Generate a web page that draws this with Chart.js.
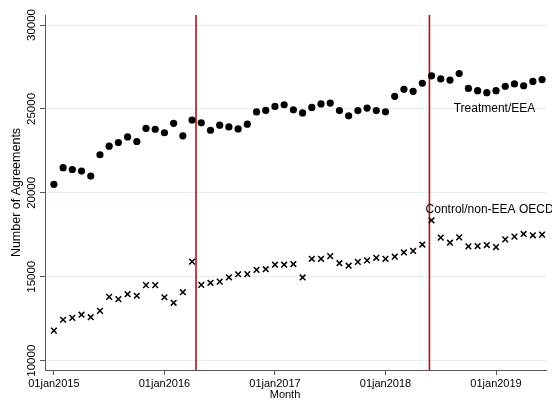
<!DOCTYPE html>
<html>
<head>
<meta charset="utf-8">
<script src="https://cdn.jsdelivr.net/npm/chart.js@4.4.1/dist/chart.umd.min.js"></script>
<style>
  html, body { margin: 0; padding: 0; background: #fff; }
  canvas { display: block; }
</style>
</head>
<body>
<canvas id="myChart" width="552" height="403"></canvas>
<script>
// monthly counts, jan2015 - jun2019
var months = [
  '2015m1','2015m2','2015m3','2015m4','2015m5','2015m6','2015m7','2015m8','2015m9','2015m10','2015m11','2015m12',
  '2016m1','2016m2','2016m3','2016m4','2016m5','2016m6','2016m7','2016m8','2016m9','2016m10','2016m11','2016m12',
  '2017m1','2017m2','2017m3','2017m4','2017m5','2017m6','2017m7','2017m8','2017m9','2017m10','2017m11','2017m12',
  '2018m1','2018m2','2018m3','2018m4','2018m5','2018m6','2018m7','2018m8','2018m9','2018m10','2018m11','2018m12',
  '2019m1','2019m2','2019m3','2019m4','2019m5','2019m6'
];
var treatment = [
  20510, 21500, 21390, 21300, 21000, 22270, 22780, 23000, 23330, 23060, 23840, 23790,
  23580, 24140, 23400, 24340, 24170, 23730, 24030, 23930, 23810, 24090, 24820, 24910,
  25150, 25250, 24950, 24760, 25090, 25300, 25350, 24900, 24590, 24900, 25050, 24900,
  24830, 25750, 26170, 26050, 26530, 26970, 26790, 26720, 27110, 26220, 26090, 25970,
  26090, 26350, 26490, 26380, 26640, 26750
];
var control = [
  11790, 12440, 12550, 12740, 12590, 12970, 13800, 13670, 13960, 13870, 14500, 14500,
  13780, 13450, 14080, 15900, 14520, 14640, 14710, 14970, 15150, 15160, 15410, 15450,
  15720, 15720, 15760, 14960, 16070, 16070, 16230, 15810, 15660, 15890, 15980, 16130,
  16070, 16195, 16450, 16540, 16920, 18360, 17330, 17030, 17350, 16810, 16830, 16890,
  16770, 17230, 17390, 17550, 17470, 17510
];
var seriesNames = ['Treatment/EEA', 'Control/non-EEA OECD'];
// x ticks in months since jan2015
var xTicks = [0, 12, 24, 36, 48];
var xTickLabels = ['01jan2015', '01jan2016', '01jan2017', '01jan2018', '01jan2019'];
var yTicks = [10000, 15000, 20000, 25000, 30000];
// GDPR adopted 14apr2016, applies from 25may2018 (months since jan2015)
var policyDates = [15.43, 40.77];

var FONT = '"Liberation Sans", Arial, Helvetica, sans-serif';

var extras = {
  id: 'extras',
  beforeDatasetsDraw: function(chart) {
    var ctx = chart.ctx, x = chart.scales.x, a = chart.chartArea;
    ctx.save();
    ctx.strokeStyle = '#b80f1c';
    ctx.lineWidth = 1.6;
    policyDates.forEach(function(d) {
      var px = x.getPixelForValue(d);
      ctx.beginPath();
      ctx.moveTo(px, a.top);
      ctx.lineTo(px, a.bottom);
      ctx.stroke();
    });
    ctx.restore();
  },
  afterDraw: function(chart) {
    var ctx = chart.ctx, x = chart.scales.x, y = chart.scales.y, a = chart.chartArea;
    ctx.save();
    ctx.fillStyle = '#000';
    ctx.font = '11.5px ' + FONT;
    ctx.textAlign = 'center';
    ctx.textBaseline = 'middle';
    // rotated y tick labels (stata style)
    yTicks.forEach(function(v) {
      ctx.save();
      ctx.translate(32, y.getPixelForValue(v));
      ctx.rotate(-Math.PI / 2);
      ctx.fillText(String(v), 0, 0);
      ctx.restore();
    });
    ctx.font = '12.5px ' + FONT;
    ctx.save();
    ctx.translate(17, (a.top + a.bottom) / 2);
    ctx.rotate(-Math.PI / 2);
    ctx.fillText('Number of Agreements', 0, 0);
    ctx.restore();
    ctx.font = '11px ' + FONT;
    ctx.fillText('Month', 285, 395);
    // series labels
    ctx.font = '12px ' + FONT;
    ctx.textAlign = 'left';
    ctx.fillText(seriesNames[0], x.getPixelForValue(43.4), y.getPixelForValue(25000));
    ctx.fillText(seriesNames[1], x.getPixelForValue(40.35), y.getPixelForValue(18980));
    ctx.restore();
  }
};

var ctx = document.getElementById('myChart');
var myChart = new Chart(ctx, {
  type: 'scatter',
  data: {
    datasets: [{
      label: seriesNames[0],
      data: months.map(function(m, i) { return {x: i, y: treatment[i]}; }),
      pointStyle: 'circle',
      pointRadius: 3.6,
      backgroundColor: '#000',
      borderColor: '#000',
      borderWidth: 0
    }, {
      label: seriesNames[1],
      data: months.map(function(m, i) { return {x: i, y: control[i]}; }),
      pointStyle: 'crossRot',
      pointRadius: 4,
      backgroundColor: '#000',
      borderColor: '#000',
      borderWidth: 1.5
    }]
  },
  options: {
    responsive: false,
    animation: false,
    layout: { padding: { top: 15, right: 0, left: 0, bottom: 0 } },
    plugins: {
      legend: { display: false },
      tooltip: { enabled: false }
    },
    scales: {
      x: {
        type: 'linear',
        min: -0.966,
        max: 53.48,
        afterBuildTicks: function(s) { s.ticks = xTicks.map(function(v) { return {value: v}; }); },
        afterFit: function(s) { s.height = 33; },
        ticks: {
          color: '#000',
          padding: 2,
          maxRotation: 0,
          font: { family: FONT, size: 11 },
          callback: function(v) { return xTickLabels[xTicks.indexOf(v)]; }
        },
        grid: { drawOnChartArea: false, drawTicks: true, tickLength: 5, tickColor: '#555' },
        border: { color: '#555', width: 1 }
      },
      y: {
        min: 9446,
        max: 30596,
        afterBuildTicks: function(s) { s.ticks = yTicks.map(function(v) { return {value: v}; }); },
        afterFit: function(s) { s.width = 45; },
        ticks: { display: false },
        grid: { color: '#e4eef2', lineWidth: 1, drawTicks: true, tickLength: 5, tickColor: '#555' },
        border: { color: '#555', width: 1 }
      }
    }
  },
  plugins: [extras]
});
</script>
</body>
</html>
